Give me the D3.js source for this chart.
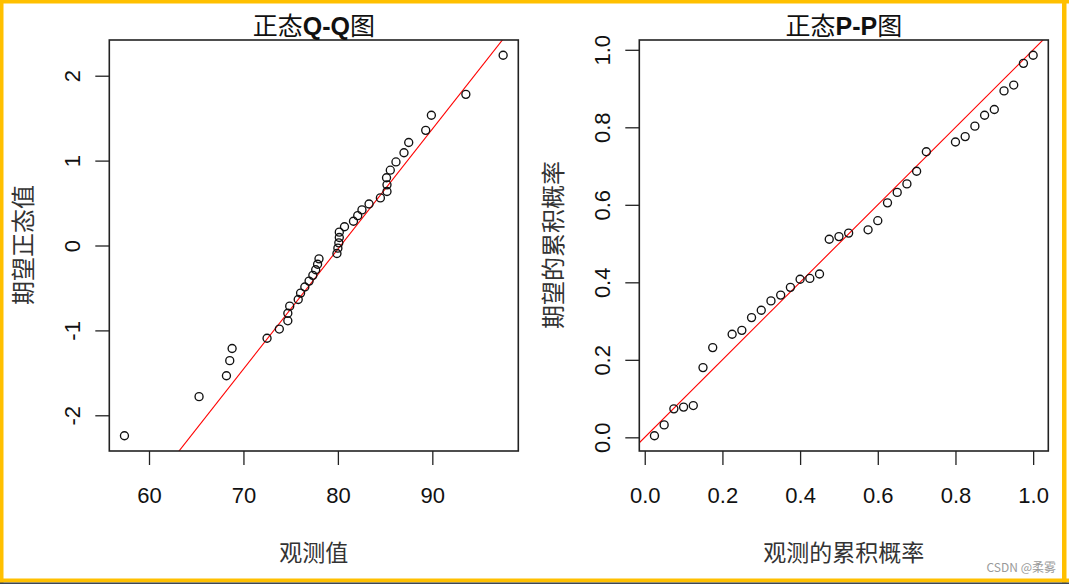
<!DOCTYPE html>
<html>
<head>
<meta charset="utf-8">
<script src="https://cdn.jsdelivr.net/npm/d3@7"></script>
<style>
  body { margin: 0; background: #fff; }
  svg { display: block; }
</style>
</head>
<body>
<script>
// observed values (x) and expected normal quantiles (y) of the Q-Q plot
var qqObserved = [57.4, 65.3, 68.2, 68.55, 68.8, 72.5, 73.8, 74.7, 74.7, 74.9,
                  75.8, 76.05, 76.5, 76.95, 77.35, 77.65, 77.85, 78.0, 79.9, 80.0,
                  80.1, 80.15, 80.15, 80.7, 81.65, 82.1, 82.55, 83.3, 84.5, 85.2,
                  85.2, 85.15, 85.55, 86.15, 87.0, 87.5, 89.3, 89.9, 93.55, 97.5];
var qqExpected = [-2.2414, -1.7805, -1.5341, -1.3563, -1.2133, -1.0920, -0.9842, -0.8871, -0.7978, -0.7144,
                  -0.6356, -0.5607, -0.4888, -0.4193, -0.3518, -0.2858, -0.2211, -0.1573, -0.0941, -0.0313,
                  0.0313, 0.0941, 0.1573, 0.2211, 0.2858, 0.3518, 0.4193, 0.4888, 0.5607, 0.6356,
                  0.7144, 0.7978, 0.8871, 0.9842, 1.0920, 1.2133, 1.3563, 1.5341, 1.7805, 2.2414];
// reference line of the Q-Q plot: y = (x - center) * slope
var qqLineCenter = 80.3;
var qqLineSlope = 0.1414;

// observed cumulative probability (x) and expected cumulative probability (y)
var ppObserved = [0.025, 0.05, 0.075, 0.1, 0.125, 0.15, 0.175, 0.225, 0.25, 0.275,
                  0.3, 0.325, 0.35, 0.375, 0.4, 0.425, 0.45, 0.475, 0.5, 0.525,
                  0.575, 0.6, 0.625, 0.65, 0.675, 0.7, 0.725, 0.8, 0.825, 0.85,
                  0.875, 0.9, 0.925, 0.95, 0.975, 1.0];
var ppExpected = [0.004, 0.032, 0.0735, 0.078, 0.082, 0.180, 0.2316, 0.266, 0.276, 0.309,
                  0.328, 0.352, 0.367, 0.387, 0.408, 0.410, 0.4215, 0.511, 0.518, 0.527,
                  0.5355, 0.559, 0.605, 0.632, 0.654, 0.6865, 0.737, 0.762, 0.776, 0.803,
                  0.831, 0.846, 0.894, 0.909, 0.965, 0.986];

var qqXTicks = [60, 70, 80, 90];
var qqYTicks = [-2, -1, 0, 1, 2];
var ppTicks = [0, 0.2, 0.4, 0.6, 0.8, 1.0];

var latin = "'Liberation Sans', Arial, sans-serif";
var cjk = "'Noto Sans CJK SC', sans-serif";

// Step 1: canvas with the yellow frame
var svg = d3.select("body").append("svg")
            .attr("width", 1069)
            .attr("height", 584);

svg.append("rect").attr("width", 1069).attr("height", 584).attr("fill", "#fff");
svg.append("rect").attr("x", 0).attr("y", 0).attr("width", 1069).attr("height", 3.5).attr("fill", "#FFC000");
svg.append("rect").attr("x", 0).attr("y", 0).attr("width", 3.5).attr("height", 584).attr("fill", "#FFC000");
svg.append("rect").attr("x", 1062).attr("y", 0).attr("width", 4.5).attr("height", 584).attr("fill", "#FFC000");
svg.append("rect").attr("x", 0).attr("y", 578.5).attr("width", 1069).attr("height", 4).attr("fill", "#FFC000");
svg.append("rect").attr("x", 0).attr("y", 582.5).attr("width", 1069).attr("height", 1.5).attr("fill", "#3b4756");

// R style range: data extent widened by 4% each side
function rRange(values) {
  var ext = d3.extent(values);
  var pad = (ext[1] - ext[0]) * 0.04;
  return [ext[0] - pad, ext[1] + pad];
}

// Step 2: one panel (box, axes, titles, points)
function drawPanel(opt) {
  var g = svg.append("g");
  var x = d3.scaleLinear().domain(rRange(opt.xs)).range([opt.left, opt.left + 409]);
  var y = d3.scaleLinear().domain(rRange(opt.ys)).range([opt.top + 411, opt.top]);

  // clip for the reference line
  var clipId = "clip" + opt.id;
  svg.append("clipPath").attr("id", clipId)
     .append("rect")
     .attr("x", opt.left).attr("y", opt.top)
     .attr("width", 409).attr("height", 411);

  g.append("line")
   .attr("clip-path", "url(#" + clipId + ")")
   .attr("x1", x(x.domain()[0])).attr("y1", y(opt.line(x.domain()[0])))
   .attr("x2", x(x.domain()[1])).attr("y2", y(opt.line(x.domain()[1])))
   .attr("stroke", "#ff0000")
   .attr("stroke-width", 1.1);

  g.selectAll("circle.pt")
   .data(opt.xs)
   .enter().append("circle")
   .attr("class", "pt")
   .attr("cx", function(d) { return x(d); })
   .attr("cy", function(d, i) { return y(opt.ys[i]); })
   .attr("r", 4)
   .attr("fill", "none")
   .attr("stroke", "#111")
   .attr("stroke-width", 1.35);

  // axes
  var xAxis = g.append("g")
               .attr("transform", "translate(0," + (opt.top + 411) + ")")
               .call(d3.axisBottom(x).tickValues(opt.xTicks).tickFormat(opt.fmt).tickSize(14).tickSizeOuter(0));
  xAxis.select(".domain").remove();
  xAxis.selectAll("line").attr("stroke", "#222").attr("stroke-width", 1.3);
  xAxis.selectAll("text")
       .attr("y", 36).attr("dy", "0.71em")
       .attr("fill", "#111")
       .style("font-family", latin).style("font-size", "22px");

  var yAxis = g.append("g")
               .attr("transform", "translate(" + opt.left + ",0)")
               .call(d3.axisLeft(y).tickValues(opt.yTicks).tickFormat(opt.fmt).tickSize(14).tickSizeOuter(0));
  yAxis.select(".domain").remove();
  yAxis.selectAll("line").attr("stroke", "#222").attr("stroke-width", 1.3);
  yAxis.selectAll("text")
       .attr("x", null).attr("dy", null)
       .attr("transform", "translate(-37,0) rotate(-90)")
       .attr("text-anchor", "middle")
       .attr("dominant-baseline", "central")
       .attr("fill", "#111")
       .style("font-family", latin).style("font-size", "22px");

  // box
  g.append("rect")
   .attr("x", opt.left).attr("y", opt.top)
   .attr("width", 409).attr("height", 411)
   .attr("fill", "none")
   .attr("stroke", "#222")
   .attr("stroke-width", 1.6);

  // title: CJK + bold latin part
  var cx = opt.left + 204.5;
  var title = g.append("text")
               .attr("x", cx).attr("y", 35)
               .attr("text-anchor", "middle")
               .attr("fill", "#111")
               .style("font-size", "25px");
  title.append("tspan").style("font-family", cjk).text("正态");
  title.append("tspan").style("font-family", latin).style("font-weight", "bold").text(opt.titleMid);
  title.append("tspan").style("font-family", cjk).text("图");

  g.append("text")
   .attr("x", cx).attr("y", 561)
   .attr("text-anchor", "middle")
   .attr("fill", "#333")
   .style("font-family", cjk).style("font-size", "23px")
   .text(opt.xTitle);

  g.append("text")
   .attr("transform", "translate(" + (opt.left - 88) + "," + (opt.top + 205) + ") rotate(-90)")
   .attr("text-anchor", "middle")
   .attr("dominant-baseline", "central")
   .attr("fill", "#333")
   .style("font-family", cjk).style("font-size", "24px")
   .text(opt.yTitle);
}

// Step 3: Q-Q panel and P-P panel (R uses a plain hyphen for negatives)
drawPanel({
  id: "qq", left: 109.3, top: 40,
  xs: qqObserved, ys: qqExpected,
  xTicks: qqXTicks, yTicks: qqYTicks, fmt: function(d) { return String(d); },
  line: function(v) { return (v - qqLineCenter) * qqLineSlope; },
  titleMid: "Q-Q", xTitle: "观测值", yTitle: "期望正态值"
});

drawPanel({
  id: "pp", left: 639.3, top: 40,
  xs: ppObserved, ys: ppExpected,
  xTicks: ppTicks, yTicks: ppTicks, fmt: d3.format(".1f"),
  line: function(v) { return v; },
  titleMid: "P-P", xTitle: "观测的累积概率", yTitle: "期望的累积概率"
});

// watermark
svg.append("text")
   .attr("x", 1056).attr("y", 572)
   .attr("text-anchor", "end")
   .attr("fill", "#9a9a9a")
   .style("font-family", cjk).style("font-size", "12px")
   .text("CSDN @柔雾");
</script>
</body>
</html>
